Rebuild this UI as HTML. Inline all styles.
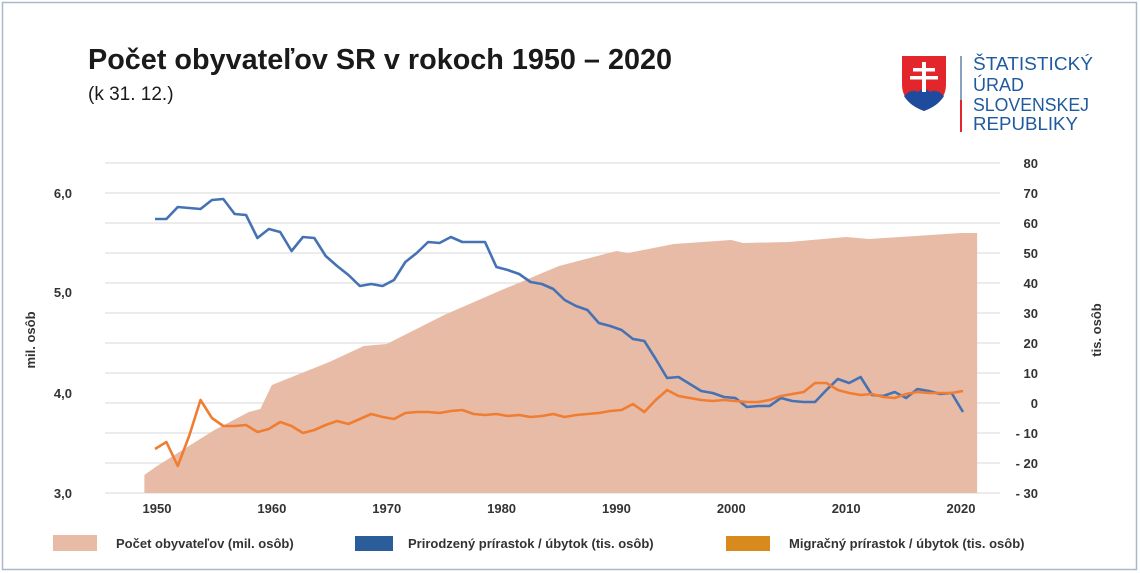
<!DOCTYPE html>
<html><head><meta charset="utf-8"><style>
body{margin:0;background:#fff}
svg{display:block;font-family:"Liberation Sans",Arial,sans-serif}
</style></head><body>
<svg id="s" width="1140" height="573" xmlns="http://www.w3.org/2000/svg">
<rect x="2.5" y="2.5" width="1134" height="567" fill="#fff" stroke="#a9b9c9" stroke-width="1.5"/>
<text x="88" y="69" font-size="28.5" font-weight="bold" fill="#1a1a1a" textLength="584" lengthAdjust="spacingAndGlyphs">Počet obyvateľov SR v rokoch 1950 – 2020</text>
<text x="88" y="100" font-size="19" fill="#1a1a1a">(k 31. 12.)</text>
<!-- logo -->
<path d="M902 56 H946 V85 Q946 102 924 111 Q902 102 902 85 Z" fill="#e3262b"/>
<path d="M904 96 Q912 88 918 92 Q924 86 930 92 Q936 88 944 96 Q938 106 924 111 Q910 106 904 96Z" fill="#1f4b9e"/>
<rect x="922" y="62" width="4" height="30" fill="#fff"/>
<rect x="913" y="68" width="22" height="3.5" fill="#fff"/>
<rect x="910" y="76" width="28" height="3.5" fill="#fff"/>
<rect x="960" y="56" width="2" height="44" fill="#8aa0c0"/>
<rect x="960" y="100" width="2" height="32" fill="#e3262b"/>
<g fill="#1f5a9e" font-size="18"><text x="973" y="70" textLength="120" lengthAdjust="spacingAndGlyphs">ŠTATISTICKÝ</text><text x="973" y="91">ÚRAD</text><text x="973" y="111" textLength="116" lengthAdjust="spacingAndGlyphs">SLOVENSKEJ</text><text x="973" y="130" textLength="105" lengthAdjust="spacingAndGlyphs">REPUBLIKY</text></g>
<g id="grid" stroke="#d9d9d9" stroke-width="1"></g>
<path id="area" fill="#e8bba6"/>
<polyline id="blue" fill="none" stroke="#4572b4" stroke-width="2.6" stroke-linejoin="round"/>
<polyline id="orange" fill="none" stroke="#ef7d32" stroke-width="2.6" stroke-linejoin="round"/>
<g font-size="13" font-weight="bold" fill="#333" text-anchor="end">
<text x="72" y="198">6,0</text><text x="72" y="297">5,0</text><text x="72" y="398">4,0</text><text x="72" y="498">3,0</text>
</g>
<g id="rt" font-size="13" font-weight="bold" fill="#333" text-anchor="end"></g>
<g id="xt" font-size="13" font-weight="bold" fill="#333" text-anchor="middle"></g>
<text transform="translate(35,340) rotate(-90)" font-size="13" font-weight="bold" fill="#333" text-anchor="middle">mil. osôb</text>
<text transform="translate(1101,330) rotate(-90)" font-size="13" font-weight="bold" fill="#333" text-anchor="middle">tis. osôb</text>
<rect x="53" y="535" width="44" height="16" fill="#e8bba6"/>
<text x="116" y="548" font-size="13" font-weight="bold" fill="#333">Počet obyvateľov (mil. osôb)</text>
<rect x="355" y="536" width="38" height="15" fill="#2a5d9a"/>
<text x="408" y="548" font-size="13" font-weight="bold" fill="#333">Prirodzený prírastok / úbytok (tis. osôb)</text>
<rect x="726" y="536" width="44" height="15" fill="#d98a1c"/>
<text x="789" y="548" font-size="13" font-weight="bold" fill="#333">Migračný prírastok / úbytok (tis. osôb)</text>
</svg>
<script>
const X=y=>157+(y-1950)*11.486;
const L=i=>155+i*11.38;
let g='';for(let k=0;k<=11;k++){g+=`<line x1="105" x2="1000" y1="${163+30*k}" y2="${163+30*k}"/>`;}
document.getElementById('grid').innerHTML=g;
let r='';for(let k=0;k<=11;k++){let v=80-10*k;r+=`<text x="1038" y="${168+30*k}">${v<0?'- '+(-v):v}</text>`;}
document.getElementById('rt').innerHTML=r;
let xt='';for(let y=1950;y<=2020;y+=10)xt+=`<text x="${X(y)}" y="513">${y}</text>`;
document.getElementById('xt').innerHTML=xt;
const b=[219,219,207,208,209,200,199,214,215,238,229,232,251,237,238,256,266,275,286,284,286,280,262,253,242,243,237,242,242,242,267,270,274,282,284,289,300,306,310,323,326,330,339,341,359,378,377,384,391,393,397,398,407,406,406,398,401,402,402,390,379,383,377,395,396,392,398,389,391,394,393,412];
const o=[449,442,466,436,400,418,426,426,425,432,429,422,426,433,430,425,421,424,419,414,417,419,413,412,412,413,411,410,414,415,414,416,415,417,416,414,417,415,414,413,411,410,404,412,400,390,396,398,400,401,400,401,402,402,400,396,394,392,383,383,390,393,395,394,397,398,394,392,393,393,393,391];
document.getElementById('blue').setAttribute('points',b.map((v,i)=>L(i)+','+v).join(' '));
document.getElementById('orange').setAttribute('points',o.map((v,i)=>L(i)+','+v).join(' '));
const a=[[1948.9,475],[1950,466],[1955,430],[1958,412],[1959,409],[1960,385],[1965,362],[1968,346],[1970,344],[1975,315],[1980,290],[1985,266],[1990,251],[1991,253],[1995,244],[2000,240],[2001,243],[2005,242],[2010,237],[2012,239],[2020,233],[2021.4,233]];
document.getElementById('area').setAttribute('d','M'+X(1948.9)+',493 '+a.map(p=>'L'+X(p[0])+','+p[1]).join(' ')+' L'+X(2021.4)+',493Z');
</script>
</body></html>
